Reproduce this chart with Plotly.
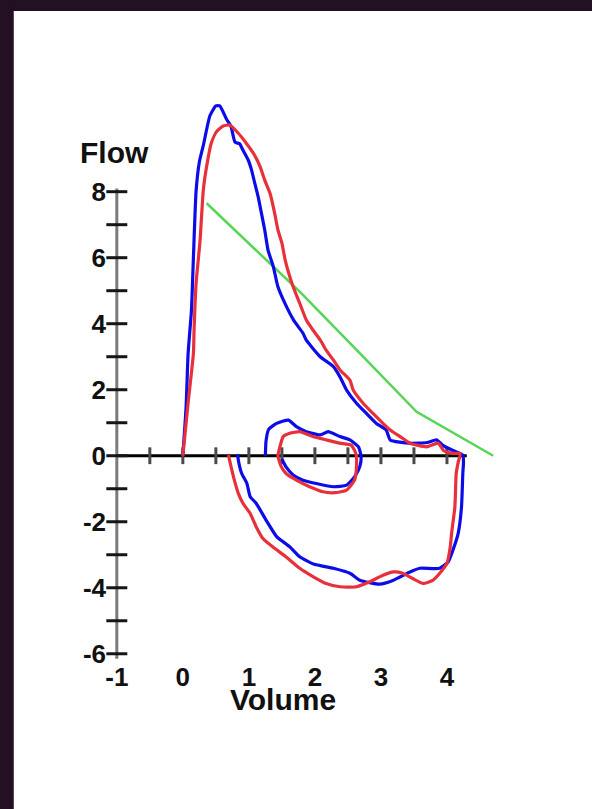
import plotly.graph_objects as go

# ---------------- data ----------------
blue_vol = [0, 0.05, 0.08, 0.13, 0.16, 0.2, 0.25, 0.31, 0.41, 0.5, 0.56, 0.66, 0.73, 0.79, 0.86,
            0.91, 0.99, 1.04, 1.09, 1.14, 1.19, 1.24, 1.29, 1.37, 1.44, 1.55, 1.68, 1.82, 1.87,
            2.08, 2.28, 2.38, 2.48, 2.63, 2.78, 2.93, 3.08, 3.14, 3.44, 3.7, 3.84, 3.95, 4.1,
            4.24, 4.25, 4.24, 4.22, 4.17, 4.09, 4.02, 3.89, 3.59, 3.44, 3.19, 2.98, 2.68, 2.53,
            2.28, 1.98, 1.77, 1.62, 1.42, 1.26, 1.11, 1.02, 0.97, 0.89, 0.84, 0.83]
blue_flow = [0, 1.5, 3.1, 4.4, 6.0, 8.0, 8.9, 9.4, 10.3, 10.6, 10.6, 10.2, 9.97, 9.5, 9.45,
             9.26, 8.96, 8.66, 8.25, 7.85, 7.35, 6.84, 6.23, 5.73, 5.12, 4.6, 4.1, 3.71, 3.5,
             3.0, 2.7, 2.39, 1.99, 1.59, 1.28, 0.98, 0.78, 0.48, 0.38, 0.4, 0.48, 0.3, 0.15,
             0.02, -0.2, -0.53, -1.55, -2.35, -2.86, -3.21, -3.41, -3.41, -3.52, -3.77, -3.89,
             -3.77, -3.56, -3.41, -3.28, -3.06, -2.76, -2.45, -1.95, -1.44, -1.24, -0.84, -0.53,
             -0.13, 0.05]

red_vol = [0, 0.08, 0.16, 0.17, 0.2, 0.26, 0.31, 0.36, 0.43, 0.51, 0.61, 0.71, 0.84, 0.96,
           1.07, 1.17, 1.24, 1.32, 1.39, 1.44, 1.5, 1.55, 1.62, 1.67, 1.77, 1.87, 1.97, 2.08,
           2.17, 2.28, 2.38, 2.53, 2.58, 2.73, 2.88, 3.03, 3.14, 3.29, 3.44, 3.69, 3.87, 3.95,
           4.09, 4.2, 4.17, 4.14, 4.12, 4.07, 4.05, 4.0, 3.89, 3.79, 3.64, 3.48, 3.33, 3.19,
           3.03, 2.83, 2.63, 2.38, 2.17, 1.97, 1.77, 1.56, 1.36, 1.21, 1.11, 1.02, 0.91, 0.84,
           0.78, 0.73, 0.69]
red_flow = [0, 1.6, 3.1, 3.8, 5.2, 6.5, 8.05, 8.76, 9.47, 9.82, 9.99, 10.02, 9.77, 9.47,
            9.16, 8.76, 8.35, 7.95, 7.35, 6.84, 6.44, 5.93, 5.42, 5.12, 4.62, 4.11, 3.81, 3.51,
            3.2, 2.9, 2.6, 2.29, 1.99, 1.59, 1.28, 0.98, 0.78, 0.58, 0.38, 0.27, 0.38, 0.15,
            0.07, 0.07, -0.2, -0.53, -1.55, -2.35, -2.76, -3.26, -3.56, -3.77, -3.87, -3.72,
            -3.56, -3.52, -3.62, -3.82, -3.97, -3.97, -3.87, -3.66, -3.41, -3.06, -2.76, -2.5,
            -2.15, -1.75, -1.44, -1.14, -0.74, -0.33, 0.02]

blue_tidal_vol = [1.25, 1.26, 1.3, 1.42, 1.6, 1.72, 1.87, 2.08, 2.2, 2.38, 2.53, 2.66, 2.7,
                  2.68, 2.6, 2.48, 2.28, 2.02, 1.82, 1.67, 1.56, 1.5]
blue_tidal_flow = [0.0, 0.45, 0.8, 0.98, 1.08, 0.88, 0.73, 0.63, 0.73, 0.58, 0.48, 0.27, -0.03,
                   -0.33, -0.64, -0.89, -0.94, -0.84, -0.74, -0.58, -0.33, -0.1]

red_tidal_vol = [1.44, 1.47, 1.52, 1.62, 1.77, 1.97, 2.17, 2.38, 2.55, 2.62, 2.63, 2.6, 2.48,
                 2.3, 2.12, 1.92, 1.72, 1.56, 1.49, 1.44]
red_tidal_flow = [0.0, 0.27, 0.58, 0.68, 0.73, 0.58, 0.48, 0.38, 0.32, 0.07, -0.33, -0.74,
                  -1.04, -1.12, -1.09, -0.94, -0.74, -0.53, -0.33, 0.0]

pred_vol = [0.36, 1.32, 1.77, 2.73, 3.54, 4.7]
pred_flow = [7.65, 5.83, 4.97, 3.0, 1.33, 0.0]

y_label_vals = [-6, -4, -2, 0, 2, 4, 6, 8]
y_tick_marks = list(range(-6, 9))
x_label_vals = [-1, 0, 1, 2, 3, 4]
x_tick_marks = [-0.5, 0, 0.5, 1, 1.5, 2, 2.5, 3, 3.5, 4]

# ---------------- figure ----------------
BLUE = "#0c0ce8"
RED = "#e8303a"
GREEN = "#55d655"
FONT = "Liberation Sans"
SMOOTH = dict(shape="spline", smoothing=0.5)

fig = go.Figure()

# zero line (volume axis)
fig.add_shape(type="line", xref="x", yref="y", x0=-1, x1=4.3, y0=0, y1=0,
              line=dict(color="black", width=3), layer="below")
# flow axis line
fig.add_shape(type="line", xref="x", yref="y", x0=-1, x1=-1,
              y0=min(y_tick_marks) - 0.15, y1=max(y_tick_marks) + 0.1,
              line=dict(color="#7a7a7a", width=3), layer="below")

# tick marks
fig.add_trace(go.Scatter(x=[-1] * len(y_tick_marks), y=y_tick_marks, mode="markers",
                         marker=dict(symbol="line-ew", size=15, line=dict(color="#151515", width=3)),
                         cliponaxis=False, hoverinfo="skip", showlegend=False))
fig.add_trace(go.Scatter(x=x_tick_marks, y=[0] * len(x_tick_marks), mode="markers",
                         marker=dict(symbol="line-ns", size=12, line=dict(color="#4a4a4a", width=3)),
                         cliponaxis=False, hoverinfo="skip", showlegend=False))

fig.add_trace(go.Scatter(x=pred_vol, y=pred_flow, mode="lines",
                         line=dict(color=GREEN, width=2.5), showlegend=False))
fig.add_trace(go.Scatter(x=blue_vol, y=blue_flow, mode="lines",
                         line=dict(color=BLUE, width=3.2, **SMOOTH), showlegend=False))
fig.add_trace(go.Scatter(x=blue_tidal_vol, y=blue_tidal_flow, mode="lines",
                         line=dict(color=BLUE, width=3.2, **SMOOTH), showlegend=False))
fig.add_trace(go.Scatter(x=red_vol, y=red_flow, mode="lines",
                         line=dict(color=RED, width=3.2, **SMOOTH), showlegend=False))
fig.add_trace(go.Scatter(x=red_tidal_vol, y=red_tidal_flow, mode="lines",
                         line=dict(color=RED, width=3.2, **SMOOTH), showlegend=False))

# axis titles
fig.add_annotation(text="Flow", x=-1.03, y=9.2, xref="x", yref="y", showarrow=False,
                   xanchor="center", yanchor="middle",
                   font=dict(family=FONT, size=30, color="#111", weight="bold"))
fig.add_annotation(text="Volume", x=1.515, y=-0.063, xref="x", yref="paper", showarrow=False,
                   xanchor="center", yanchor="middle",
                   font=dict(family=FONT, size=30, color="#111", weight="bold"))

# border strips
BORDER = "#231123"
fig.add_shape(type="rect", xref="paper", yref="paper", x0=-0.3, x1=1.3, y0=1.1436, y1=1.25,
              fillcolor=BORDER, line=dict(width=0), layer="above")
fig.add_shape(type="rect", xref="paper", yref="paper", x0=-0.3, x1=-0.2001, y0=-0.4, y1=1.25,
              fillcolor=BORDER, line=dict(width=0), layer="above")

fig.update_layout(
    width=592, height=809,
    margin=dict(l=97.2, r=79, t=93, b=145, pad=0),
    paper_bgcolor="white", plot_bgcolor="white",
    showlegend=False,
    xaxis=dict(range=[-1.3, 5.0], showgrid=False, zeroline=False, showline=False,
               ticks="", tickvals=x_label_vals, ticktext=[str(v) for v in x_label_vals],
               tickfont=dict(family=FONT, size=26, color="#111", weight="bold"),
               ticklabelstandoff=-5, automargin=False),
    yaxis=dict(range=[-6.31, 10.99], showgrid=False, zeroline=False, showline=False,
               ticks="", tickvals=y_label_vals, ticktext=[str(v) for v in y_label_vals],
               tickfont=dict(family=FONT, size=26, color="#111", weight="bold"),
               ticklabelstandoff=-10, automargin=False),
)

fig.write_html("out.html", config={"displayModeBar": False},
               post_script="document.body.style.margin='0';")
